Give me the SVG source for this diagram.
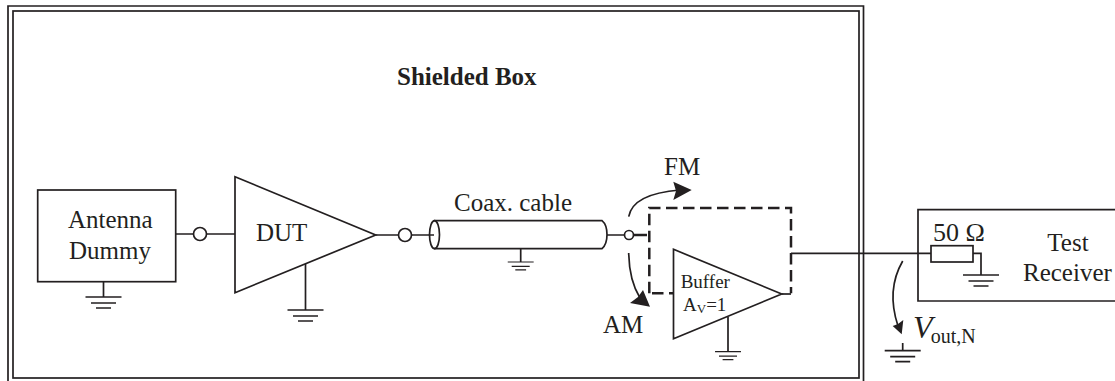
<svg xmlns="http://www.w3.org/2000/svg" width="1115" height="381" viewBox="0 0 1115 381">
<style>
text{font-family:"Liberation Serif","Times New Roman",serif;font-size:25px;fill:#231f20}
.l{fill:none;stroke:#231f20;stroke-width:1.7}
.w{fill:#fff;stroke:#231f20;stroke-width:1.7}
.h{fill:#231f20;stroke:none}
.d{fill:none;stroke:#231f20;stroke-width:2.500;stroke-dasharray:11.500 5.500}
</style>
<defs>
<g id="gnd"><path class="l" d="M-18 0H18M-12.500 6H12.500M-7.500 11H7.500"/></g>
</defs>
<rect width="1115" height="381" fill="#fff"/>
<g id="shielded-box">
<path class="l" d="M8 381V6H863.500V381"/>
<rect class="l" x="13" y="11" width="846" height="367"/>
<text x="397" y="85" font-weight="bold">Shielded Box</text>
</g>
<g id="connectors">
<path class="l" d="M176 234H235M376 235H434M605 235H625"/>
<path class="l" style="stroke-width:2.500" d="M634 235H647"/>
<path class="l" d="M791 253.300H931M973 253.300H981V275"/>
<path class="l" d="M103.500 282V297M305.500 264V310M520.700 249V262M728 317V351.700M902.700 343V350.700"/>
<path class="l" d="M782 294H791"/>
<path class="l" d="M628.700 216.700C632 198 655 192 680 190"/>
<path class="h" d="M691.700 190L673.300 181.700L676 191L673.300 200Z"/>
<path class="l" d="M628.700 253C629 270 632 285 640 298"/>
<path class="h" d="M650 306.700L643 290L638 297L630 303Z"/>
<path class="l" d="M902.700 261C890 283 891 305 898 326"/>
<path class="h" d="M901.700 334.300L892.700 326L898 324L903.300 320Z"/>
</g>
<g id="antenna-dummy">
<rect class="w" x="37.700" y="190" width="138" height="91.700"/>
<text x="68" y="228">Antenna</text>
<text x="69" y="259">Dummy</text>
<use href="#gnd" x="103.500" y="297"/>
</g>
<circle id="port-1" class="w" cx="200" cy="234" r="6.500"/>
<g id="dut">
<path class="w" d="M235 176.700V292.700L375.700 235Z"/>
<text x="256" y="241">DUT</text>
<use href="#gnd" x="305.500" y="310"/>
</g>
<circle id="port-2" class="w" cx="405" cy="235" r="6.500"/>
<g id="coax-cable">
<path class="w" d="M434 220.700H602C606 224 607 230 607 234.700C607 240 606 245 602 248.700H434"/>
<ellipse class="l" cx="434.500" cy="234.700" rx="5" ry="14"/>
<text x="454" y="211">Coax. cable</text>
<use href="#gnd" transform="translate(520.700 262) scale(.72)"/>
</g>
<circle id="port-3" class="w" cx="629" cy="235" r="4.500"/>
<text id="label-fm" x="664" y="175">FM</text>
<text id="label-am" x="603" y="333">AM</text>
<g id="buffer">
<path class="d" d="M649.300 293.300V208H791V293.300"/>
<path class="d" d="M652 293.300H673"/>
<path class="l" d="M673.500 249.300V338.700L781.700 294Z"/>
<text x="680.700" y="288" style="font-size:19px">Buffer</text>
<text x="683" y="311" style="font-size:19px">A<tspan dy="2" style="font-size:13px">V</tspan><tspan dy="-2">=1</tspan></text>
<use href="#gnd" transform="translate(728 351.700) scale(.72)"/>
</g>
<g id="test-receiver">
<path class="l" d="M1115 209.700H918V301H1115"/>
<rect class="w" x="931" y="245.700" width="42" height="16.300"/>
<text x="933" y="241" style="font-size:26px">50 Ω</text>
<text x="1068" y="251" text-anchor="middle">Test</text>
<text x="1023" y="281">Receiver</text>
<use href="#gnd" x="981" y="275"/>
</g>
<g id="vout">
<text x="913" y="338" font-style="italic" style="font-size:32px">V</text>
<text x="930.700" y="343" style="font-size:20px">out,N</text>
<use href="#gnd" x="902.700" y="350.700"/>
</g>
</svg>
